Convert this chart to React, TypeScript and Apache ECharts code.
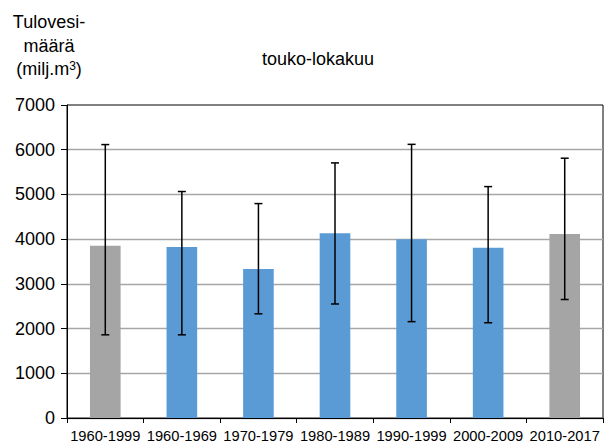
import React, { useEffect, useRef } from "react";
import * as echarts from "echarts";

const categories = ["1960-1999", "1960-1969", "1970-1979", "1980-1989", "1990-1999", "2000-2009", "2010-2017"];
const meanValues = [3850, 3825, 3335, 4130, 3995, 3805, 4115];
const lowValues = [1860, 1860, 2330, 2550, 2155, 2130, 2650];
const highValues = [6115, 5065, 4795, 5705, 6120, 5175, 5810];
const barColors = ["#A5A5A5", "#5B9BD5", "#5B9BD5", "#5B9BD5", "#5B9BD5", "#5B9BD5", "#A5A5A5"];
const yTicks = { min: 0, max: 7000, interval: 1000 };
const titleText = "touko-lokakuu";
const yTitleLines = ["Tulovesi-", "määrä", "(milj.m{sup|3})"];

const FONT = "'Liberation Sans', Arial, sans-serif";

export default function App() {
  const ref = useRef<HTMLDivElement>(null);
  useEffect(() => {
    if (!ref.current) return;
    const chart = echarts.init(ref.current, undefined, { renderer: "svg" });
    const errData = categories.map((_, i) => [i, lowValues[i], highValues[i]]);
    chart.setOption({
      animation: false,
      textStyle: { fontFamily: FONT },
      grid: {
        left: 67,
        right: 1,
        top: 105,
        bottom: 25,
        show: true,
        borderColor: "#000",
        borderWidth: 1,
        backgroundColor: "transparent",
      },
      graphic: [
        ...yTitleLines.map((t, i) => ({
          type: "text",
          x: 49,
          y: 22 + i * 23.5,
          style: {
            text: t,
            fontSize: 18,
            fontFamily: FONT,
            fill: "#000",
            align: "center",
            verticalAlign: "middle",
            rich: {
              sup: { fontSize: 12, fontFamily: FONT, fill: "#000", verticalAlign: "top", padding: [0, 0, 0, 0] },
            },
          },
        })),
        {
          type: "text",
          x: 318,
          y: 59,
          style: {
            text: titleText,
            fontSize: 18,
            fontFamily: FONT,
            fill: "#000",
            align: "center",
            verticalAlign: "middle",
          },
        },
      ],
      xAxis: {
        type: "category",
        data: categories,
        axisLine: { show: true, lineStyle: { color: "#000", width: 1 } },
        axisTick: { show: true, length: 5, lineStyle: { color: "#000" } },
        axisLabel: { interval: 0, fontSize: 14.7, color: "#000", margin: 10, fontFamily: FONT },
      },
      yAxis: {
        type: "value",
        min: yTicks.min,
        max: yTicks.max,
        interval: yTicks.interval,
        axisLine: { show: true, lineStyle: { color: "#000", width: 1 } },
        axisTick: { show: true, length: 6, lineStyle: { color: "#000" } },
        axisLabel: {
          fontSize: 18,
          color: "#000",
          margin: 12,
          fontFamily: FONT,
          formatter: (v: number) => String(v),
        },
        splitLine: { show: true, showMaxLine: false, lineStyle: { color: "#A6A6A6", width: 1.3 } },
      },
      series: [
        {
          type: "bar",
          barWidth: "40%",
          data: meanValues.map((v, i) => ({ value: v, itemStyle: { color: barColors[i] } })),
          z: 2,
        },
        {
          type: "custom",
          data: errData,
          encode: { x: 0, y: [1, 2] },
          z: 5,
          renderItem: (params: any, api: any) => {
            const x = api.value(0);
            const lo = api.coord([x, api.value(1)]);
            const hi = api.coord([x, api.value(2)]);
            const half = 4;
            const style = { stroke: "#000", lineWidth: 1.5 };
            return {
              type: "group",
              children: [
                { type: "line", shape: { x1: lo[0], y1: lo[1], x2: hi[0], y2: hi[1] }, style },
                { type: "line", shape: { x1: hi[0] - half, y1: hi[1], x2: hi[0] + half, y2: hi[1] }, style },
                { type: "line", shape: { x1: lo[0] - half, y1: lo[1], x2: lo[0] + half, y2: lo[1] }, style },
              ],
            };
          },
        },
      ],
    });
    return () => chart.dispose();
  }, []);
  return (
    <div
      ref={ref}
      style={{ position: "fixed", left: 0, top: 0, width: 604, height: 443, background: "#fff" }}
    />
  );
}
